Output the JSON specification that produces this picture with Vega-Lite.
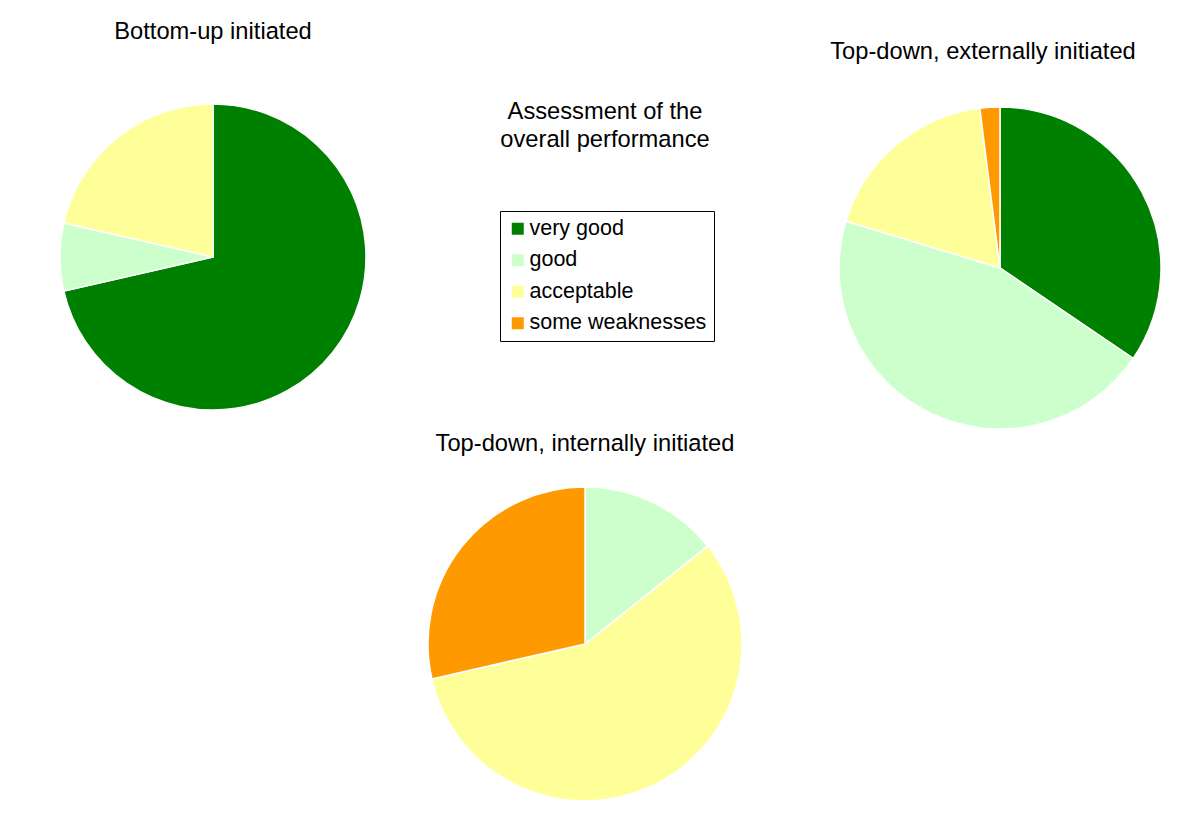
{
  "$schema": "https://vega.github.io/schema/vega-lite/v6.json",
  "background": "white",
  "padding": {"left": 40, "top": 20, "right": 0, "bottom": 0},
  "data": {"values": [
    {"group": "Bottom-up initiated", "category": "very good", "rank": 1, "value": 10},
    {"group": "Bottom-up initiated", "category": "good", "rank": 2, "value": 1},
    {"group": "Bottom-up initiated", "category": "acceptable", "rank": 3, "value": 3},
    {"group": "Top-down, externally initiated", "category": "very good", "rank": 1, "value": 34.5},
    {"group": "Top-down, externally initiated", "category": "good", "rank": 2, "value": 45.2},
    {"group": "Top-down, externally initiated", "category": "acceptable", "rank": 3, "value": 18.3},
    {"group": "Top-down, externally initiated", "category": "some weaknesses", "rank": 4, "value": 2.0},
    {"group": "Top-down, internally initiated", "category": "good", "rank": 2, "value": 1},
    {"group": "Top-down, internally initiated", "category": "acceptable", "rank": 3, "value": 4},
    {"group": "Top-down, internally initiated", "category": "some weaknesses", "rank": 4, "value": 2}
  ]},
  "config": {
    "view": {"stroke": null},
    "font": "Liberation Sans",
    "title": {"font": "Liberation Sans", "fontSize": 23.7, "fontWeight": "normal", "color": "#000000"}
  },
  "title": {"text": ["Assessment of the", "overall performance"], "anchor": "middle", "offset": -131, "fontSize": 23.7, "lineHeight": 28},
  "spacing": 0,
  "bounds": "full",
  "resolve": {"scale": {"theta": "independent"}},
  "vconcat": [
    {
      "spacing": 444,
      "bounds": "flush",
      "resolve": {"scale": {"theta": "independent"}},
      "hconcat": [
        {
          "title": {"text": "Bottom-up initiated", "offset": 57},
          "width": 346, "height": 298,
          "transform": [{"filter": "datum.group === 'Bottom-up initiated'"}],
          "mark": {"type": "arc", "outerRadius": 153, "stroke": "white", "strokeWidth": 1.5},
          "encoding": {
            "theta": {"field": "value", "type": "quantitative", "stack": true},
            "order": {"field": "rank", "type": "quantitative"},
            "color": {"field": "category", "type": "nominal",
              "scale": {"domain": ["very good", "good", "acceptable", "some weaknesses"], "range": ["#008000", "#ccffcc", "#ffff99", "#ff9900"]},
              "legend": {"orient": "none", "legendX": 460, "legendY": 103, "title": null, "strokeColor": "black", "fillColor": "white", "padding": 7, "symbolType": "square", "symbolSize": 144, "symbolStrokeWidth": 0, "labelFontSize": 21.5, "labelFont": "Liberation Sans", "labelColor": "black", "labelLimit": 400, "rowPadding": 8.5, "labelOffset": 1}}
          }
        },
        {
          "title": {"text": "Top-down, externally initiated", "offset": 40, "dx": -17},
          "width": 340, "height": 320,
          "transform": [{"filter": "datum.group === 'Top-down, externally initiated'"}],
          "mark": {"type": "arc", "outerRadius": 161, "stroke": "white", "strokeWidth": 1.5},
          "encoding": {
            "theta": {"field": "value", "type": "quantitative", "stack": true},
            "order": {"field": "rank", "type": "quantitative"},
            "color": {"field": "category", "type": "nominal",
              "scale": {"domain": ["very good", "good", "acceptable", "some weaknesses"], "range": ["#008000", "#ccffcc", "#ffff99", "#ff9900"]},
              "legend": {"orient": "none", "legendX": 460, "legendY": 103, "title": null, "strokeColor": "black", "fillColor": "white", "padding": 7, "symbolType": "square", "symbolSize": 144, "symbolStrokeWidth": 0, "labelFontSize": 21.5, "labelFont": "Liberation Sans", "labelColor": "black", "labelLimit": 400, "rowPadding": 8.5, "labelOffset": 1}}
          }
        }
      ]
    },
    {
      "title": {"text": "Top-down, internally initiated", "offset": 28},
      "width": 1090, "height": 300,
      "transform": [{"filter": "datum.group === 'Top-down, internally initiated'"}],
      "mark": {"type": "arc", "outerRadius": 157, "stroke": "white", "strokeWidth": 1.5},
      "encoding": {
        "theta": {"field": "value", "type": "quantitative", "stack": true},
        "order": {"field": "rank", "type": "quantitative"},
        "color": {"field": "category", "type": "nominal",
          "scale": {"domain": ["very good", "good", "acceptable", "some weaknesses"], "range": ["#008000", "#ccffcc", "#ffff99", "#ff9900"]},
          "legend": {"orient": "none", "legendX": 460, "legendY": 103, "title": null, "strokeColor": "black", "fillColor": "white", "padding": 7, "symbolType": "square", "symbolSize": 144, "symbolStrokeWidth": 0, "labelFontSize": 21.5, "labelFont": "Liberation Sans", "labelColor": "black", "labelLimit": 400, "rowPadding": 8.5, "labelOffset": 1}}
      }
    }
  ]
}
